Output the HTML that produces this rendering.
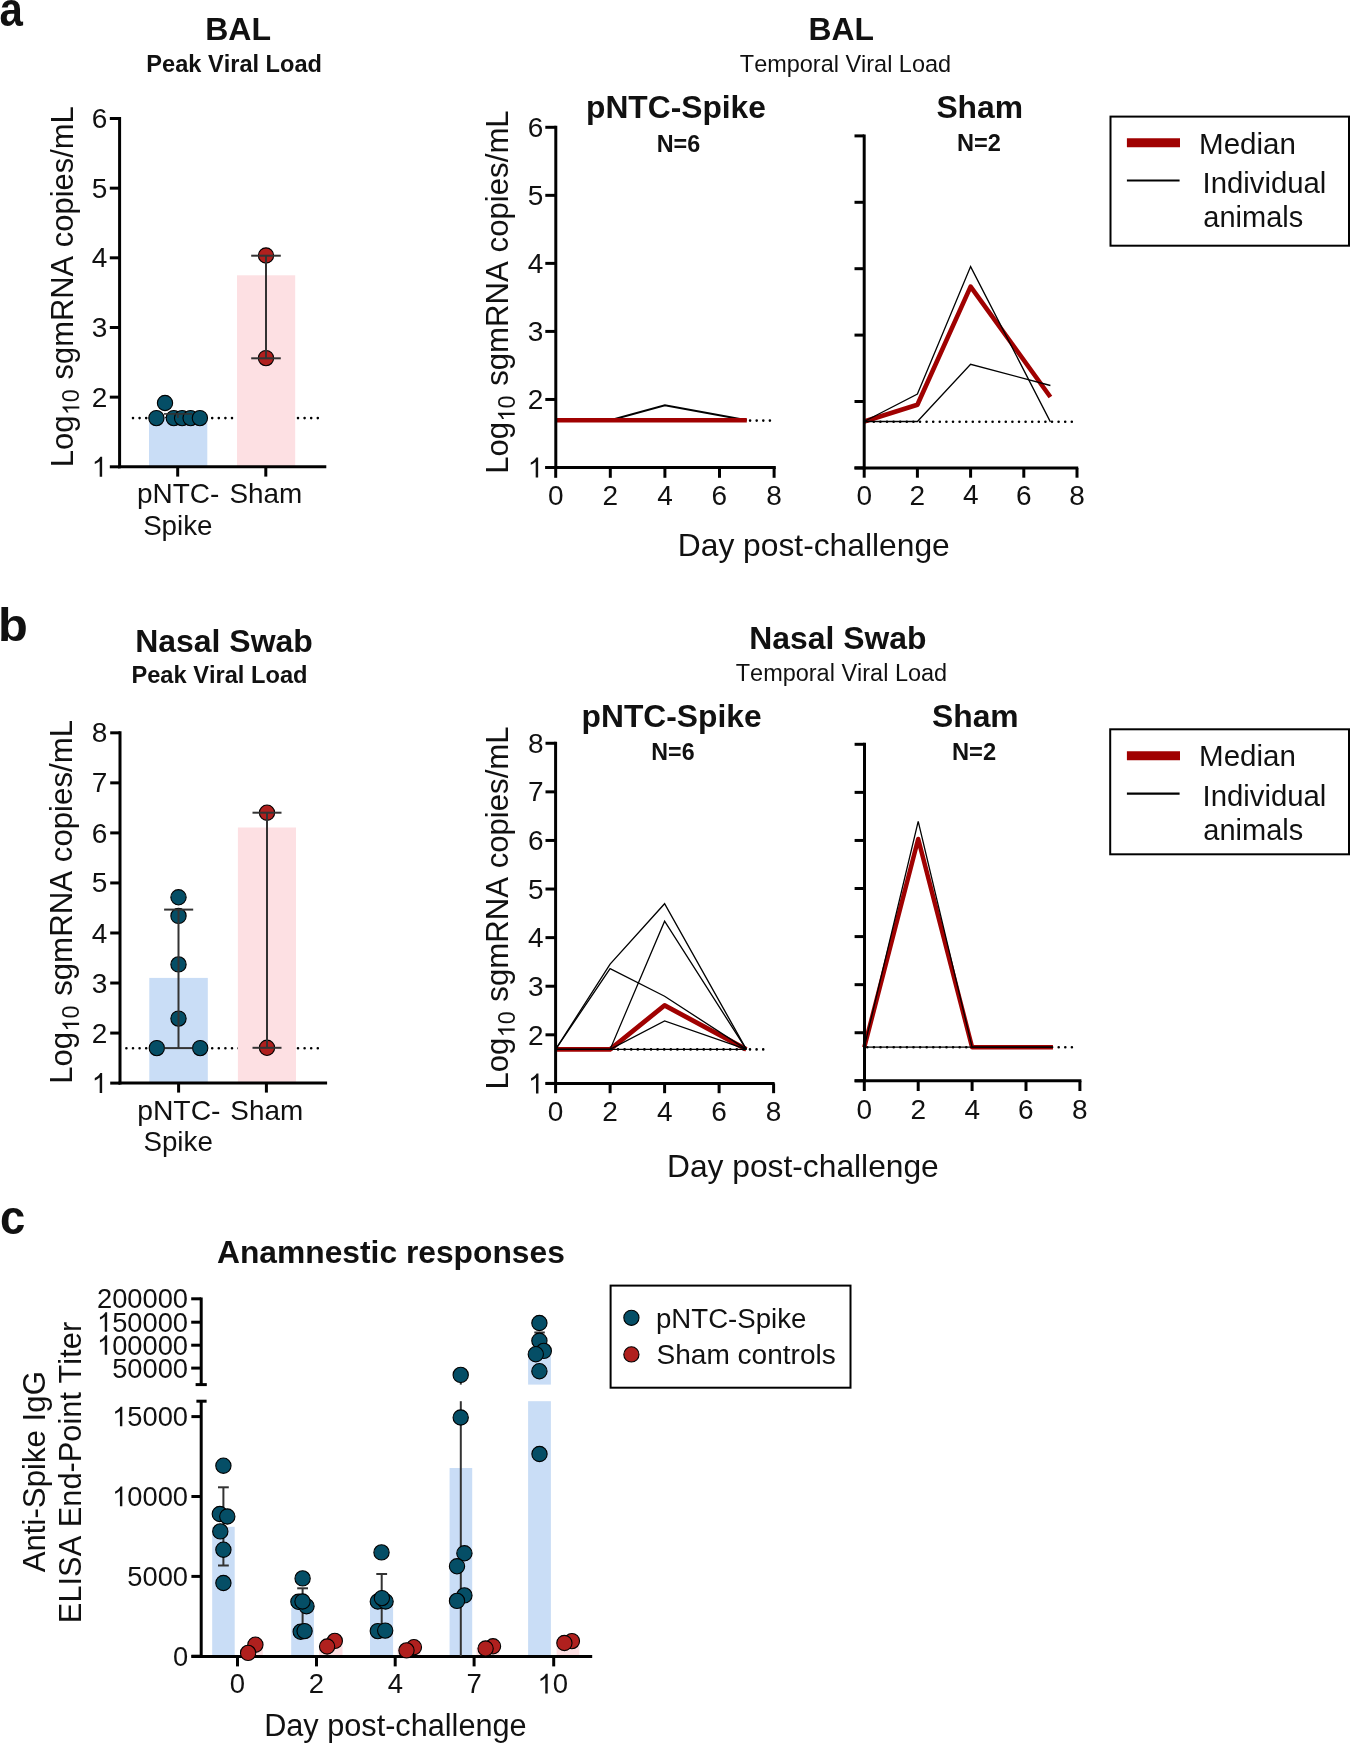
<!DOCTYPE html>
<html><head><meta charset="utf-8"><style>
html,body{margin:0;padding:0;background:#fff;}
svg{display:block;}
text{font-kerning:none;font-feature-settings:"kern" 0;}
text{font-family:"Liberation Sans", sans-serif;}
</style></head><body>
<svg width="1350" height="1743" viewBox="0 0 1350 1743">
<rect width="1350" height="1743" fill="#fff"/>
<g opacity="0.999">
<text x="-0.53" y="25.8" font-size="48.69" font-weight="bold" fill="#111" textLength="23.36" lengthAdjust="spacingAndGlyphs">a</text>
<text x="205.16" y="40.2" font-size="32.03" font-weight="bold" fill="#111">BAL</text>
<text x="146.32" y="71.8" font-size="23.58" font-weight="bold" fill="#111">Peak Viral Load</text>
<line x1="133" y1="418.1" x2="318.21" y2="418.1" stroke="#000" stroke-width="2.6" stroke-linecap="round" stroke-dasharray="0 6.6"/>
<rect x="149" y="417.8" width="58.3" height="49" fill="#c9ddf6"/>
<rect x="237" y="275.3" width="58.2" height="191.5" fill="#fde0e3"/>
<circle cx="165" cy="403" r="7.65" fill="#054e66" stroke="#000" stroke-width="1.1"/>
<circle cx="156.4" cy="418.1" r="7.65" fill="#054e66" stroke="#000" stroke-width="1.1"/>
<circle cx="173.8" cy="418.1" r="7.65" fill="#054e66" stroke="#000" stroke-width="1.1"/>
<circle cx="182.1" cy="418.1" r="7.65" fill="#054e66" stroke="#000" stroke-width="1.1"/>
<circle cx="190.6" cy="418.1" r="7.65" fill="#054e66" stroke="#000" stroke-width="1.1"/>
<circle cx="199.9" cy="418.1" r="7.65" fill="#054e66" stroke="#000" stroke-width="1.1"/>
<line x1="164" y1="413.9" x2="192" y2="413.9" stroke="#333" stroke-width="1.6" stroke-linecap="butt"/>
<line x1="177.9" y1="413.9" x2="177.9" y2="418" stroke="#333" stroke-width="1.6" stroke-linecap="butt"/>
<circle cx="266" cy="255.5" r="7.65" fill="#b0201e" stroke="#000" stroke-width="1.1"/>
<circle cx="266" cy="358.1" r="7.65" fill="#b0201e" stroke="#000" stroke-width="1.1"/>
<line x1="266" y1="255.7" x2="266" y2="358.3" stroke="#333" stroke-width="2" stroke-linecap="butt"/>
<line x1="251.2" y1="255.7" x2="280.8" y2="255.7" stroke="#333" stroke-width="2" stroke-linecap="butt"/>
<line x1="251.2" y1="358.3" x2="280.8" y2="358.3" stroke="#333" stroke-width="2" stroke-linecap="butt"/>
<line x1="119.6" y1="117" x2="119.6" y2="468.3" stroke="#000" stroke-width="3" stroke-linecap="butt"/>
<line x1="109.8" y1="118.5" x2="119.6" y2="118.5" stroke="#000" stroke-width="3" stroke-linecap="butt"/>
<text x="91.72" y="128.14" font-size="28" font-weight="normal" fill="#111">6</text>
<line x1="109.8" y1="188.16" x2="119.6" y2="188.16" stroke="#000" stroke-width="3" stroke-linecap="butt"/>
<text x="91.72" y="197.66" font-size="28" font-weight="normal" fill="#111">5</text>
<line x1="109.8" y1="257.82" x2="119.6" y2="257.82" stroke="#000" stroke-width="3" stroke-linecap="butt"/>
<text x="91.72" y="267.45" font-size="28" font-weight="normal" fill="#111">4</text>
<line x1="109.8" y1="327.48" x2="119.6" y2="327.48" stroke="#000" stroke-width="3" stroke-linecap="butt"/>
<text x="91.72" y="337.12" font-size="28" font-weight="normal" fill="#111">3</text>
<line x1="109.8" y1="397.14" x2="119.6" y2="397.14" stroke="#000" stroke-width="3" stroke-linecap="butt"/>
<text x="91.72" y="406.92" font-size="28" font-weight="normal" fill="#111">2</text>
<line x1="109.8" y1="466.8" x2="119.6" y2="466.8" stroke="#000" stroke-width="3" stroke-linecap="butt"/>
<path d="M763 0L583 0L583 1147Q518 1085 412 1023Q306 961 223 930L223 1104Q367 1172 475 1268Q583 1364 628 1466L763 1466Z" fill="#111" transform="translate(91.72,476.82) scale(0.01367,-0.01367)"/>
<line x1="118" y1="466.8" x2="326.3" y2="466.8" stroke="#000" stroke-width="3" stroke-linecap="butt"/>
<line x1="177.7" y1="466.8" x2="177.7" y2="476.6" stroke="#000" stroke-width="3" stroke-linecap="butt"/>
<line x1="265.8" y1="466.8" x2="265.8" y2="476.6" stroke="#000" stroke-width="3" stroke-linecap="butt"/>
<text x="136.9" y="503.3" font-size="27.97" font-weight="normal" fill="#111">pNTC-</text>
<text x="229.43" y="503.3" font-size="27.87" font-weight="normal" fill="#111">Sham</text>
<text x="143.14" y="534.7" font-size="27.74" font-weight="normal" fill="#111">Spike</text>
<text transform="translate(72.7,467.35) rotate(-90)" font-size="31.08" font-weight="normal" fill="#111">Log</text>
<g transform="translate(79.3,415.15) rotate(-90)"><path d="M763 0L583 0L583 1147Q518 1085 412 1023Q306 961 223 930L223 1104Q367 1172 475 1268Q583 1364 628 1466L763 1466Z" fill="#111" transform="translate(0,0) scale(0.01144,-0.01144)"/><text x="13.03" y="0" font-size="23.44" fill="#111">0</text></g>
<text transform="translate(72.7,379.46) rotate(-90)" font-size="30.93" font-weight="normal" fill="#111">sgmRNA copies/mL</text>
<text x="808.57" y="39.8" font-size="31.83" font-weight="bold" fill="#111">BAL</text>
<text x="739.87" y="72" font-size="23.46" font-weight="normal" fill="#111">Temporal Viral Load</text>
<text x="586.01" y="117.9" font-size="31.76" font-weight="bold" fill="#111">pNTC-Spike</text>
<text x="656.64" y="152" font-size="23.36" font-weight="bold" fill="#111">N=6</text>
<line x1="558.7" y1="420.6" x2="770.01" y2="420.6" stroke="#000" stroke-width="2.6" stroke-linecap="round" stroke-dasharray="0 6.6"/>
<polyline points="555.7,420.3 610.3,420.3 664.9,405.3 746.8,420.3" fill="none" stroke="#000" stroke-width="2.1" stroke-linejoin="miter" stroke-linecap="butt"/>
<polyline points="555.7,420.3 746.8,420.3" fill="none" stroke="#a00000" stroke-width="4.6" stroke-linejoin="miter" stroke-linecap="butt"/>
<line x1="555.8" y1="125.8" x2="555.8" y2="469" stroke="#000" stroke-width="3" stroke-linecap="butt"/>
<line x1="545.3" y1="127.3" x2="555.8" y2="127.3" stroke="#000" stroke-width="3" stroke-linecap="butt"/>
<text x="527.72" y="136.94" font-size="28" font-weight="normal" fill="#111">6</text>
<line x1="545.3" y1="195.34" x2="555.8" y2="195.34" stroke="#000" stroke-width="3" stroke-linecap="butt"/>
<text x="527.72" y="204.84" font-size="28" font-weight="normal" fill="#111">5</text>
<line x1="545.3" y1="263.38" x2="555.8" y2="263.38" stroke="#000" stroke-width="3" stroke-linecap="butt"/>
<text x="527.72" y="273.01" font-size="28" font-weight="normal" fill="#111">4</text>
<line x1="545.3" y1="331.42" x2="555.8" y2="331.42" stroke="#000" stroke-width="3" stroke-linecap="butt"/>
<text x="527.72" y="341.06" font-size="28" font-weight="normal" fill="#111">3</text>
<line x1="545.3" y1="399.46" x2="555.8" y2="399.46" stroke="#000" stroke-width="3" stroke-linecap="butt"/>
<text x="527.72" y="409.24" font-size="28" font-weight="normal" fill="#111">2</text>
<line x1="545.3" y1="467.5" x2="555.8" y2="467.5" stroke="#000" stroke-width="3" stroke-linecap="butt"/>
<path d="M763 0L583 0L583 1147Q518 1085 412 1023Q306 961 223 930L223 1104Q367 1172 475 1268Q583 1364 628 1466L763 1466Z" fill="#111" transform="translate(527.72,477.52) scale(0.01367,-0.01367)"/>
<line x1="545.3" y1="467.5" x2="775.8" y2="467.5" stroke="#000" stroke-width="3" stroke-linecap="butt"/>
<line x1="555.7" y1="467.5" x2="555.7" y2="477.8" stroke="#000" stroke-width="3" stroke-linecap="butt"/>
<text x="547.91" y="504.95" font-size="28" font-weight="normal" fill="#111">0</text>
<line x1="610.3" y1="467.5" x2="610.3" y2="477.8" stroke="#000" stroke-width="3" stroke-linecap="butt"/>
<text x="602.51" y="504.95" font-size="28" font-weight="normal" fill="#111">2</text>
<line x1="664.9" y1="467.5" x2="664.9" y2="477.8" stroke="#000" stroke-width="3" stroke-linecap="butt"/>
<text x="657.2" y="504.66" font-size="28" font-weight="normal" fill="#111">4</text>
<line x1="719.5" y1="467.5" x2="719.5" y2="477.8" stroke="#000" stroke-width="3" stroke-linecap="butt"/>
<text x="711.62" y="504.95" font-size="28" font-weight="normal" fill="#111">6</text>
<line x1="774.1" y1="467.5" x2="774.1" y2="477.8" stroke="#000" stroke-width="3" stroke-linecap="butt"/>
<text x="766.31" y="504.95" font-size="28" font-weight="normal" fill="#111">8</text>
<text transform="translate(508.1,473.75) rotate(-90)" font-size="31.08" font-weight="normal" fill="#111">Log</text>
<g transform="translate(514.7,421.55) rotate(-90)"><path d="M763 0L583 0L583 1147Q518 1085 412 1023Q306 961 223 930L223 1104Q367 1172 475 1268Q583 1364 628 1466L763 1466Z" fill="#111" transform="translate(0,0) scale(0.01144,-0.01144)"/><text x="13.03" y="0" font-size="23.44" fill="#111">0</text></g>
<text transform="translate(508.1,385.87) rotate(-90)" font-size="31.2" font-weight="normal" fill="#111">sgmRNA copies/mL</text>
<text x="936.38" y="117.6" font-size="31.83" font-weight="bold" fill="#111">Sham</text>
<text x="956.92" y="151.3" font-size="23.58" font-weight="bold" fill="#111">N=2</text>
<line x1="867.2" y1="421.7" x2="1073.51" y2="421.7" stroke="#000" stroke-width="2.6" stroke-linecap="round" stroke-dasharray="0 6.6"/>
<polyline points="864.2,421.5 917.4,404.7 970.6,286.6 1050.4,397" fill="none" stroke="#a00000" stroke-width="4.6" stroke-linejoin="round" stroke-linecap="butt"/>
<polyline points="864.2,421.5 917.4,394.1 970.6,266.6 1050.4,421.9" fill="none" stroke="#000" stroke-width="1.3" stroke-linejoin="miter" stroke-linecap="butt"/>
<polyline points="864.2,421.5 917.4,421.5 970.6,364.3 1050.4,385.5" fill="none" stroke="#000" stroke-width="1.3" stroke-linejoin="miter" stroke-linecap="butt"/>
<line x1="864.2" y1="134.4" x2="864.2" y2="469.4" stroke="#000" stroke-width="3" stroke-linecap="butt"/>
<line x1="854.5" y1="135.9" x2="864.2" y2="135.9" stroke="#000" stroke-width="3" stroke-linecap="butt"/>
<line x1="854.5" y1="202.3" x2="864.2" y2="202.3" stroke="#000" stroke-width="3" stroke-linecap="butt"/>
<line x1="854.5" y1="268.7" x2="864.2" y2="268.7" stroke="#000" stroke-width="3" stroke-linecap="butt"/>
<line x1="854.5" y1="335.1" x2="864.2" y2="335.1" stroke="#000" stroke-width="3" stroke-linecap="butt"/>
<line x1="854.5" y1="401.5" x2="864.2" y2="401.5" stroke="#000" stroke-width="3" stroke-linecap="butt"/>
<line x1="854.5" y1="467.9" x2="864.2" y2="467.9" stroke="#000" stroke-width="3" stroke-linecap="butt"/>
<line x1="854.5" y1="467.9" x2="1078.2" y2="467.9" stroke="#000" stroke-width="3" stroke-linecap="butt"/>
<line x1="864.2" y1="467.9" x2="864.2" y2="477.7" stroke="#000" stroke-width="3" stroke-linecap="butt"/>
<text x="856.41" y="504.75" font-size="28" font-weight="normal" fill="#111">0</text>
<line x1="917.4" y1="467.9" x2="917.4" y2="477.7" stroke="#000" stroke-width="3" stroke-linecap="butt"/>
<text x="909.61" y="504.75" font-size="28" font-weight="normal" fill="#111">2</text>
<line x1="970.6" y1="467.9" x2="970.6" y2="477.7" stroke="#000" stroke-width="3" stroke-linecap="butt"/>
<text x="962.9" y="504.46" font-size="28" font-weight="normal" fill="#111">4</text>
<line x1="1023.8" y1="467.9" x2="1023.8" y2="477.7" stroke="#000" stroke-width="3" stroke-linecap="butt"/>
<text x="1015.92" y="504.75" font-size="28" font-weight="normal" fill="#111">6</text>
<line x1="1077" y1="467.9" x2="1077" y2="477.7" stroke="#000" stroke-width="3" stroke-linecap="butt"/>
<text x="1069.21" y="504.75" font-size="28" font-weight="normal" fill="#111">8</text>
<text x="677.79" y="555.6" font-size="31.78" font-weight="normal" fill="#111">Day post-challenge</text>
<rect x="1110.5" y="116.6" width="238.5" height="129.1" fill="none" stroke="#000" stroke-width="2"/>
<line x1="1126.9" y1="142.8" x2="1180" y2="142.8" stroke="#a00000" stroke-width="8.9" stroke-linecap="butt"/>
<line x1="1126.9" y1="180.5" x2="1179.6" y2="180.5" stroke="#000" stroke-width="2.2" stroke-linecap="butt"/>
<text x="1199.08" y="153.5" font-size="29.56" font-weight="normal" fill="#111">Median</text>
<text x="1202.49" y="193" font-size="29.32" font-weight="normal" fill="#111">Individual</text>
<text x="1203.37" y="227.2" font-size="28.99" font-weight="normal" fill="#111">animals</text>
<text x="-1.92" y="641" font-size="46.78" font-weight="bold" fill="#111" textLength="29.82" lengthAdjust="spacingAndGlyphs">b</text>
<text x="135.16" y="652.1" font-size="31.98" font-weight="bold" fill="#111">Nasal Swab</text>
<text x="131.42" y="683.1" font-size="23.65" font-weight="bold" fill="#111">Peak Viral Load</text>
<line x1="126.4" y1="1048.3" x2="321.21" y2="1048.3" stroke="#000" stroke-width="2.6" stroke-linecap="round" stroke-dasharray="0 6.6"/>
<rect x="149.3" y="977.9" width="58.5" height="105.2" fill="#c9ddf6"/>
<rect x="237.9" y="827.5" width="58.1" height="255.6" fill="#fde0e3"/>
<circle cx="178.5" cy="897.3" r="7.65" fill="#054e66" stroke="#000" stroke-width="1.1"/>
<circle cx="178.5" cy="915.9" r="7.65" fill="#054e66" stroke="#000" stroke-width="1.1"/>
<circle cx="178.5" cy="964.4" r="7.65" fill="#054e66" stroke="#000" stroke-width="1.1"/>
<circle cx="178.5" cy="1018.6" r="7.65" fill="#054e66" stroke="#000" stroke-width="1.1"/>
<circle cx="156.8" cy="1048.1" r="7.65" fill="#054e66" stroke="#000" stroke-width="1.1"/>
<circle cx="200.2" cy="1048.1" r="7.65" fill="#054e66" stroke="#000" stroke-width="1.1"/>
<line x1="178.5" y1="909.6" x2="178.5" y2="1048.1" stroke="#333" stroke-width="2" stroke-linecap="butt"/>
<line x1="164.1" y1="909.6" x2="193.2" y2="909.6" stroke="#333" stroke-width="2" stroke-linecap="butt"/>
<line x1="164.6" y1="1048.1" x2="192.2" y2="1048.1" stroke="#333" stroke-width="2" stroke-linecap="butt"/>
<circle cx="267" cy="812.7" r="7.65" fill="#b0201e" stroke="#000" stroke-width="1.1"/>
<circle cx="267" cy="1047.8" r="7.65" fill="#b0201e" stroke="#000" stroke-width="1.1"/>
<line x1="267" y1="812.7" x2="267" y2="1047.8" stroke="#333" stroke-width="2" stroke-linecap="butt"/>
<line x1="252.5" y1="812.7" x2="281.5" y2="812.7" stroke="#333" stroke-width="2" stroke-linecap="butt"/>
<line x1="252.5" y1="1047.8" x2="281.5" y2="1047.8" stroke="#333" stroke-width="2" stroke-linecap="butt"/>
<line x1="120" y1="731.3" x2="120" y2="1084.6" stroke="#000" stroke-width="3" stroke-linecap="butt"/>
<line x1="110.2" y1="732.82" x2="120" y2="732.82" stroke="#000" stroke-width="3" stroke-linecap="butt"/>
<text x="91.72" y="742.46" font-size="28" font-weight="normal" fill="#111">8</text>
<line x1="110.2" y1="782.86" x2="120" y2="782.86" stroke="#000" stroke-width="3" stroke-linecap="butt"/>
<text x="91.72" y="792.49" font-size="28" font-weight="normal" fill="#111">7</text>
<line x1="110.2" y1="832.9" x2="120" y2="832.9" stroke="#000" stroke-width="3" stroke-linecap="butt"/>
<text x="91.72" y="842.54" font-size="28" font-weight="normal" fill="#111">6</text>
<line x1="110.2" y1="882.94" x2="120" y2="882.94" stroke="#000" stroke-width="3" stroke-linecap="butt"/>
<text x="91.72" y="892.44" font-size="28" font-weight="normal" fill="#111">5</text>
<line x1="110.2" y1="932.98" x2="120" y2="932.98" stroke="#000" stroke-width="3" stroke-linecap="butt"/>
<text x="91.72" y="942.61" font-size="28" font-weight="normal" fill="#111">4</text>
<line x1="110.2" y1="983.02" x2="120" y2="983.02" stroke="#000" stroke-width="3" stroke-linecap="butt"/>
<text x="91.72" y="992.66" font-size="28" font-weight="normal" fill="#111">3</text>
<line x1="110.2" y1="1033.06" x2="120" y2="1033.06" stroke="#000" stroke-width="3" stroke-linecap="butt"/>
<text x="91.72" y="1042.84" font-size="28" font-weight="normal" fill="#111">2</text>
<line x1="110.2" y1="1083.1" x2="120" y2="1083.1" stroke="#000" stroke-width="3" stroke-linecap="butt"/>
<path d="M763 0L583 0L583 1147Q518 1085 412 1023Q306 961 223 930L223 1104Q367 1172 475 1268Q583 1364 628 1466L763 1466Z" fill="#111" transform="translate(91.72,1093.12) scale(0.01367,-0.01367)"/>
<line x1="118.5" y1="1083.1" x2="327.1" y2="1083.1" stroke="#000" stroke-width="3" stroke-linecap="butt"/>
<line x1="178.6" y1="1083.1" x2="178.6" y2="1092.6" stroke="#000" stroke-width="3" stroke-linecap="butt"/>
<line x1="266.4" y1="1083.1" x2="266.4" y2="1092.6" stroke="#000" stroke-width="3" stroke-linecap="butt"/>
<text x="137.17" y="1120" font-size="28.32" font-weight="normal" fill="#111">pNTC-</text>
<text x="230.33" y="1120" font-size="27.87" font-weight="normal" fill="#111">Sham</text>
<text x="143.44" y="1150.7" font-size="27.74" font-weight="normal" fill="#111">Spike</text>
<text transform="translate(72.3,1083.75) rotate(-90)" font-size="31.08" font-weight="normal" fill="#111">Log</text>
<g transform="translate(79.1,1031.55) rotate(-90)"><path d="M763 0L583 0L583 1147Q518 1085 412 1023Q306 961 223 930L223 1104Q367 1172 475 1268Q583 1364 628 1466L763 1466Z" fill="#111" transform="translate(0,0) scale(0.01144,-0.01144)"/><text x="13.03" y="0" font-size="23.44" fill="#111">0</text></g>
<text transform="translate(72.3,995.87) rotate(-90)" font-size="31.24" font-weight="normal" fill="#111">sgmRNA copies/mL</text>
<text x="749.37" y="649.4" font-size="31.87" font-weight="bold" fill="#111">Nasal Swab</text>
<text x="735.77" y="680.9" font-size="23.47" font-weight="normal" fill="#111">Temporal Viral Load</text>
<text x="581.61" y="726.9" font-size="31.76" font-weight="bold" fill="#111">pNTC-Spike</text>
<text x="651.35" y="760.4" font-size="23.19" font-weight="bold" fill="#111">N=6</text>
<line x1="558.6" y1="1049.4" x2="769.51" y2="1049.4" stroke="#000" stroke-width="2.6" stroke-linecap="round" stroke-dasharray="0 6.6"/>
<polyline points="555.6,1049.4 610.1,1049.4 664.6,1005.4 746.35,1049.4" fill="none" stroke="#a00000" stroke-width="4.6" stroke-linejoin="round" stroke-linecap="butt"/>
<polyline points="555.6,1049.4 610.1,964.1 664.6,903.7 746.35,1049.4" fill="none" stroke="#000" stroke-width="1.3" stroke-linejoin="miter" stroke-linecap="butt"/>
<polyline points="555.6,1049.4 610.1,968.7 664.6,996.2 746.35,1049.4" fill="none" stroke="#000" stroke-width="1.3" stroke-linejoin="miter" stroke-linecap="butt"/>
<polyline points="555.6,1049.4 610.1,1049.4 664.6,921.2 746.35,1049.4" fill="none" stroke="#000" stroke-width="1.3" stroke-linejoin="miter" stroke-linecap="butt"/>
<polyline points="555.6,1049.4 610.1,1049.4 664.6,1021 746.35,1049.4" fill="none" stroke="#000" stroke-width="1.3" stroke-linejoin="miter" stroke-linecap="butt"/>
<polyline points="555.6,1049.4 746.35,1049.4" fill="none" stroke="#000" stroke-width="1.3" stroke-linejoin="miter" stroke-linecap="butt"/>
<line x1="555.6" y1="741.8" x2="555.6" y2="1084.9" stroke="#000" stroke-width="3" stroke-linecap="butt"/>
<line x1="545.5" y1="743.27" x2="555.6" y2="743.27" stroke="#000" stroke-width="3" stroke-linecap="butt"/>
<text x="528.02" y="752.91" font-size="28" font-weight="normal" fill="#111">8</text>
<line x1="545.5" y1="791.86" x2="555.6" y2="791.86" stroke="#000" stroke-width="3" stroke-linecap="butt"/>
<text x="528.02" y="801.49" font-size="28" font-weight="normal" fill="#111">7</text>
<line x1="545.5" y1="840.45" x2="555.6" y2="840.45" stroke="#000" stroke-width="3" stroke-linecap="butt"/>
<text x="528.02" y="850.09" font-size="28" font-weight="normal" fill="#111">6</text>
<line x1="545.5" y1="889.04" x2="555.6" y2="889.04" stroke="#000" stroke-width="3" stroke-linecap="butt"/>
<text x="528.02" y="898.54" font-size="28" font-weight="normal" fill="#111">5</text>
<line x1="545.5" y1="937.63" x2="555.6" y2="937.63" stroke="#000" stroke-width="3" stroke-linecap="butt"/>
<text x="528.02" y="947.26" font-size="28" font-weight="normal" fill="#111">4</text>
<line x1="545.5" y1="986.22" x2="555.6" y2="986.22" stroke="#000" stroke-width="3" stroke-linecap="butt"/>
<text x="528.02" y="995.86" font-size="28" font-weight="normal" fill="#111">3</text>
<line x1="545.5" y1="1034.81" x2="555.6" y2="1034.81" stroke="#000" stroke-width="3" stroke-linecap="butt"/>
<text x="528.02" y="1044.59" font-size="28" font-weight="normal" fill="#111">2</text>
<line x1="545.5" y1="1083.4" x2="555.6" y2="1083.4" stroke="#000" stroke-width="3" stroke-linecap="butt"/>
<path d="M763 0L583 0L583 1147Q518 1085 412 1023Q306 961 223 930L223 1104Q367 1172 475 1268Q583 1364 628 1466L763 1466Z" fill="#111" transform="translate(528.02,1093.42) scale(0.01367,-0.01367)"/>
<line x1="545.5" y1="1083.4" x2="774.6" y2="1083.4" stroke="#000" stroke-width="3" stroke-linecap="butt"/>
<line x1="555.6" y1="1083.4" x2="555.6" y2="1093.2" stroke="#000" stroke-width="3" stroke-linecap="butt"/>
<text x="547.81" y="1120.95" font-size="28" font-weight="normal" fill="#111">0</text>
<line x1="610.1" y1="1083.4" x2="610.1" y2="1093.2" stroke="#000" stroke-width="3" stroke-linecap="butt"/>
<text x="602.31" y="1120.95" font-size="28" font-weight="normal" fill="#111">2</text>
<line x1="664.6" y1="1083.4" x2="664.6" y2="1093.2" stroke="#000" stroke-width="3" stroke-linecap="butt"/>
<text x="656.9" y="1120.66" font-size="28" font-weight="normal" fill="#111">4</text>
<line x1="719.1" y1="1083.4" x2="719.1" y2="1093.2" stroke="#000" stroke-width="3" stroke-linecap="butt"/>
<text x="711.22" y="1120.95" font-size="28" font-weight="normal" fill="#111">6</text>
<line x1="773.6" y1="1083.4" x2="773.6" y2="1093.2" stroke="#000" stroke-width="3" stroke-linecap="butt"/>
<text x="765.81" y="1120.95" font-size="28" font-weight="normal" fill="#111">8</text>
<text transform="translate(508.1,1089.55) rotate(-90)" font-size="31.08" font-weight="normal" fill="#111">Log</text>
<g transform="translate(514.7,1037.35) rotate(-90)"><path d="M763 0L583 0L583 1147Q518 1085 412 1023Q306 961 223 930L223 1104Q367 1172 475 1268Q583 1364 628 1466L763 1466Z" fill="#111" transform="translate(0,0) scale(0.01144,-0.01144)"/><text x="13.03" y="0" font-size="23.44" fill="#111">0</text></g>
<text transform="translate(508.1,1001.67) rotate(-90)" font-size="31.17" font-weight="normal" fill="#111">sgmRNA copies/mL</text>
<text x="931.98" y="726.6" font-size="31.83" font-weight="bold" fill="#111">Sham</text>
<text x="952.01" y="760.2" font-size="23.7" font-weight="bold" fill="#111">N=2</text>
<line x1="867.3" y1="1047.2" x2="1076.01" y2="1047.2" stroke="#000" stroke-width="2.6" stroke-linecap="round" stroke-dasharray="0 6.6"/>
<polyline points="864.3,1047.2 918.2,839 972.1,1047.2 1052.95,1047.2" fill="none" stroke="#a00000" stroke-width="4.5" stroke-linejoin="round" stroke-linecap="butt"/>
<polyline points="864.3,1047.2 918.2,821.3 972.1,1047.2 1052.95,1047.2" fill="none" stroke="#000" stroke-width="1.3" stroke-linejoin="miter" stroke-linecap="butt"/>
<polyline points="864.3,1047.2 1052.95,1047.2" fill="none" stroke="#000" stroke-width="1.3" stroke-linejoin="miter" stroke-linecap="butt"/>
<line x1="864.5" y1="742.8" x2="864.5" y2="1082.3" stroke="#000" stroke-width="3" stroke-linecap="butt"/>
<line x1="854.6" y1="744.31" x2="864.5" y2="744.31" stroke="#000" stroke-width="3" stroke-linecap="butt"/>
<line x1="854.6" y1="792.38" x2="864.5" y2="792.38" stroke="#000" stroke-width="3" stroke-linecap="butt"/>
<line x1="854.6" y1="840.45" x2="864.5" y2="840.45" stroke="#000" stroke-width="3" stroke-linecap="butt"/>
<line x1="854.6" y1="888.52" x2="864.5" y2="888.52" stroke="#000" stroke-width="3" stroke-linecap="butt"/>
<line x1="854.6" y1="936.59" x2="864.5" y2="936.59" stroke="#000" stroke-width="3" stroke-linecap="butt"/>
<line x1="854.6" y1="984.66" x2="864.5" y2="984.66" stroke="#000" stroke-width="3" stroke-linecap="butt"/>
<line x1="854.6" y1="1032.73" x2="864.5" y2="1032.73" stroke="#000" stroke-width="3" stroke-linecap="butt"/>
<line x1="854.6" y1="1080.8" x2="864.5" y2="1080.8" stroke="#000" stroke-width="3" stroke-linecap="butt"/>
<line x1="854.6" y1="1080.8" x2="1081.4" y2="1080.8" stroke="#000" stroke-width="3" stroke-linecap="butt"/>
<line x1="864.3" y1="1080.8" x2="864.3" y2="1091" stroke="#000" stroke-width="3" stroke-linecap="butt"/>
<text x="856.51" y="1118.95" font-size="28" font-weight="normal" fill="#111">0</text>
<line x1="918.2" y1="1080.8" x2="918.2" y2="1091" stroke="#000" stroke-width="3" stroke-linecap="butt"/>
<text x="910.41" y="1118.95" font-size="28" font-weight="normal" fill="#111">2</text>
<line x1="972.1" y1="1080.8" x2="972.1" y2="1091" stroke="#000" stroke-width="3" stroke-linecap="butt"/>
<text x="964.4" y="1118.66" font-size="28" font-weight="normal" fill="#111">4</text>
<line x1="1026" y1="1080.8" x2="1026" y2="1091" stroke="#000" stroke-width="3" stroke-linecap="butt"/>
<text x="1018.12" y="1118.95" font-size="28" font-weight="normal" fill="#111">6</text>
<line x1="1079.9" y1="1080.8" x2="1079.9" y2="1091" stroke="#000" stroke-width="3" stroke-linecap="butt"/>
<text x="1072.11" y="1118.95" font-size="28" font-weight="normal" fill="#111">8</text>
<text x="666.99" y="1177.2" font-size="31.76" font-weight="normal" fill="#111">Day post-challenge</text>
<rect x="1110.2" y="729.3" width="238.8" height="125" fill="none" stroke="#000" stroke-width="2"/>
<line x1="1126.9" y1="755.7" x2="1180" y2="755.7" stroke="#a00000" stroke-width="8.9" stroke-linecap="butt"/>
<line x1="1126.9" y1="793.7" x2="1179.6" y2="793.7" stroke="#000" stroke-width="2.2" stroke-linecap="butt"/>
<text x="1199.08" y="766.3" font-size="29.56" font-weight="normal" fill="#111">Median</text>
<text x="1202.49" y="806.1" font-size="29.32" font-weight="normal" fill="#111">Individual</text>
<text x="1203.37" y="840" font-size="28.99" font-weight="normal" fill="#111">animals</text>
<text x="0.02" y="1233.8" font-size="47.2" font-weight="bold" fill="#111" textLength="25.31" lengthAdjust="spacingAndGlyphs">c</text>
<text x="217.01" y="1263.3" font-size="31.77" font-weight="bold" fill="#111">Anamnestic responses</text>
<rect x="212.2" y="1526.8" width="22.5" height="129.4" fill="#c9ddf6"/>
<rect x="291.2" y="1608" width="22.7" height="48.2" fill="#c9ddf6"/>
<rect x="370" y="1606.4" width="23.1" height="49.8" fill="#c9ddf6"/>
<rect x="449.6" y="1468" width="22.6" height="188.2" fill="#c9ddf6"/>
<rect x="528.1" y="1401.2" width="22.8" height="255" fill="#c9ddf6"/>
<rect x="528.1" y="1355" width="22.8" height="29.6" fill="#c9ddf6"/>
<rect x="240.2" y="1649" width="22.6" height="7.2" fill="#fde0e3"/>
<rect x="319.1" y="1645.3" width="23.4" height="10.9" fill="#fde0e3"/>
<rect x="397.5" y="1648" width="23" height="8.2" fill="#fde0e3"/>
<rect x="476.5" y="1647.5" width="23" height="8.7" fill="#fde0e3"/>
<rect x="556.6" y="1641" width="22.8" height="15.2" fill="#fde0e3"/>
<line x1="201.2" y1="1297.5" x2="201.2" y2="1384.6" stroke="#000" stroke-width="3" stroke-linecap="butt"/>
<line x1="191.2" y1="1298.8" x2="201.2" y2="1298.8" stroke="#000" stroke-width="3" stroke-linecap="butt"/>
<text x="96.97" y="1308.2" font-size="27.3" font-weight="normal" fill="#111">200000</text>
<line x1="191.2" y1="1322.2" x2="201.2" y2="1322.2" stroke="#000" stroke-width="3" stroke-linecap="butt"/>
<path d="M763 0L583 0L583 1147Q518 1085 412 1023Q306 961 223 930L223 1104Q367 1172 475 1268Q583 1364 628 1466L763 1466Z" fill="#111" transform="translate(96.97,1331.84) scale(0.01333,-0.01333)"/>
<text x="112.15" y="1331.84" font-size="27.3" fill="#111">50000</text>
<line x1="191.2" y1="1345.2" x2="201.2" y2="1345.2" stroke="#000" stroke-width="3" stroke-linecap="butt"/>
<path d="M763 0L583 0L583 1147Q518 1085 412 1023Q306 961 223 930L223 1104Q367 1172 475 1268Q583 1364 628 1466L763 1466Z" fill="#111" transform="translate(96.97,1354.84) scale(0.01333,-0.01333)"/>
<text x="112.15" y="1354.84" font-size="27.3" fill="#111">00000</text>
<line x1="191.2" y1="1368.1" x2="201.2" y2="1368.1" stroke="#000" stroke-width="3" stroke-linecap="butt"/>
<text x="112.15" y="1377.5" font-size="27.3" font-weight="normal" fill="#111">50000</text>
<line x1="195.6" y1="1384.6" x2="206.8" y2="1384.6" stroke="#000" stroke-width="3" stroke-linecap="butt"/>
<line x1="196.4" y1="1401.2" x2="206.6" y2="1401.2" stroke="#000" stroke-width="3" stroke-linecap="butt"/>
<line x1="201.2" y1="1401.2" x2="201.2" y2="1657.7" stroke="#000" stroke-width="3" stroke-linecap="butt"/>
<line x1="191.4" y1="1416.6" x2="201.2" y2="1416.6" stroke="#000" stroke-width="3" stroke-linecap="butt"/>
<path d="M763 0L583 0L583 1147Q518 1085 412 1023Q306 961 223 930L223 1104Q367 1172 475 1268Q583 1364 628 1466L763 1466Z" fill="#111" transform="translate(112.15,1426.24) scale(0.01333,-0.01333)"/>
<text x="127.33" y="1426.24" font-size="27.3" fill="#111">5000</text>
<line x1="191.4" y1="1496.5" x2="201.2" y2="1496.5" stroke="#000" stroke-width="3" stroke-linecap="butt"/>
<path d="M763 0L583 0L583 1147Q518 1085 412 1023Q306 961 223 930L223 1104Q367 1172 475 1268Q583 1364 628 1466L763 1466Z" fill="#111" transform="translate(112.15,1506.14) scale(0.01333,-0.01333)"/>
<text x="127.33" y="1506.14" font-size="27.3" fill="#111">0000</text>
<line x1="191.4" y1="1576.4" x2="201.2" y2="1576.4" stroke="#000" stroke-width="3" stroke-linecap="butt"/>
<text x="127.33" y="1585.8" font-size="27.3" font-weight="normal" fill="#111">5000</text>
<line x1="191.4" y1="1656.2" x2="201.2" y2="1656.2" stroke="#000" stroke-width="3" stroke-linecap="butt"/>
<text x="172.88" y="1665.6" font-size="27.3" font-weight="normal" fill="#111">0</text>
<line x1="191.4" y1="1656.4" x2="592.2" y2="1656.4" stroke="#000" stroke-width="3" stroke-linecap="butt"/>
<line x1="237.5" y1="1656.4" x2="237.5" y2="1666.4" stroke="#000" stroke-width="3" stroke-linecap="butt"/>
<text x="229.85" y="1693" font-size="27.5" font-weight="normal" fill="#111">0</text>
<line x1="316.5" y1="1656.4" x2="316.5" y2="1666.4" stroke="#000" stroke-width="3" stroke-linecap="butt"/>
<text x="308.85" y="1693" font-size="27.5" font-weight="normal" fill="#111">2</text>
<line x1="395.2" y1="1656.4" x2="395.2" y2="1666.4" stroke="#000" stroke-width="3" stroke-linecap="butt"/>
<text x="387.64" y="1692.72" font-size="27.5" font-weight="normal" fill="#111">4</text>
<line x1="474.1" y1="1656.4" x2="474.1" y2="1666.4" stroke="#000" stroke-width="3" stroke-linecap="butt"/>
<text x="466.44" y="1692.72" font-size="27.5" font-weight="normal" fill="#111">7</text>
<line x1="553.7" y1="1656.4" x2="553.7" y2="1666.4" stroke="#000" stroke-width="3" stroke-linecap="butt"/>
<path d="M763 0L583 0L583 1147Q518 1085 412 1023Q306 961 223 930L223 1104Q367 1172 475 1268Q583 1364 628 1466L763 1466Z" fill="#111" transform="translate(537.45,1693.49) scale(0.01343,-0.01343)"/>
<text x="552.74" y="1693.49" font-size="27.5" fill="#111">0</text>
<line x1="223.4" y1="1487.3" x2="223.4" y2="1565.5" stroke="#333" stroke-width="2" stroke-linecap="butt"/>
<line x1="218" y1="1487.3" x2="228.8" y2="1487.3" stroke="#333" stroke-width="2" stroke-linecap="butt"/>
<line x1="218" y1="1565.5" x2="228.8" y2="1565.5" stroke="#333" stroke-width="2" stroke-linecap="butt"/>
<line x1="302.6" y1="1588.3" x2="302.6" y2="1625" stroke="#333" stroke-width="2" stroke-linecap="butt"/>
<line x1="297.2" y1="1588.3" x2="308" y2="1588.3" stroke="#333" stroke-width="2" stroke-linecap="butt"/>
<line x1="297.2" y1="1625" x2="308" y2="1625" stroke="#333" stroke-width="2" stroke-linecap="butt"/>
<line x1="381.7" y1="1574" x2="381.7" y2="1628" stroke="#333" stroke-width="2" stroke-linecap="butt"/>
<line x1="376.3" y1="1574" x2="387.1" y2="1574" stroke="#333" stroke-width="2" stroke-linecap="butt"/>
<line x1="376.3" y1="1628" x2="387.1" y2="1628" stroke="#333" stroke-width="2" stroke-linecap="butt"/>
<line x1="460.8" y1="1401.2" x2="460.8" y2="1656.2" stroke="#333" stroke-width="2" stroke-linecap="butt"/>
<line x1="460.8" y1="1380" x2="460.8" y2="1384.6" stroke="#333" stroke-width="2" stroke-linecap="butt"/>
<line x1="534.3" y1="1332.5" x2="544.8" y2="1332.5" stroke="#333" stroke-width="2" stroke-linecap="butt"/>
<circle cx="223.4" cy="1465.7" r="7.65" fill="#054e66" stroke="#000" stroke-width="1.1"/>
<circle cx="219.8" cy="1514" r="7.65" fill="#054e66" stroke="#000" stroke-width="1.1"/>
<circle cx="227.3" cy="1516.5" r="7.65" fill="#054e66" stroke="#000" stroke-width="1.1"/>
<circle cx="220.3" cy="1531.4" r="7.65" fill="#054e66" stroke="#000" stroke-width="1.1"/>
<circle cx="223.4" cy="1549.7" r="7.65" fill="#054e66" stroke="#000" stroke-width="1.1"/>
<circle cx="223.4" cy="1583" r="7.65" fill="#054e66" stroke="#000" stroke-width="1.1"/>
<circle cx="302.6" cy="1578.4" r="7.65" fill="#054e66" stroke="#000" stroke-width="1.1"/>
<circle cx="298.4" cy="1601.8" r="7.65" fill="#054e66" stroke="#000" stroke-width="1.1"/>
<circle cx="306.5" cy="1606.2" r="7.65" fill="#054e66" stroke="#000" stroke-width="1.1"/>
<circle cx="302.5" cy="1601.5" r="7.65" fill="#054e66" stroke="#000" stroke-width="1.1"/>
<circle cx="300.7" cy="1631.7" r="7.65" fill="#054e66" stroke="#000" stroke-width="1.1"/>
<circle cx="304.6" cy="1631.1" r="7.65" fill="#054e66" stroke="#000" stroke-width="1.1"/>
<circle cx="381.5" cy="1552.4" r="7.65" fill="#054e66" stroke="#000" stroke-width="1.1"/>
<circle cx="377.8" cy="1601.5" r="7.65" fill="#054e66" stroke="#000" stroke-width="1.1"/>
<circle cx="385.6" cy="1601.5" r="7.65" fill="#054e66" stroke="#000" stroke-width="1.1"/>
<circle cx="381.9" cy="1598.1" r="7.65" fill="#054e66" stroke="#000" stroke-width="1.1"/>
<circle cx="377.8" cy="1631.1" r="7.65" fill="#054e66" stroke="#000" stroke-width="1.1"/>
<circle cx="385.2" cy="1630.6" r="7.65" fill="#054e66" stroke="#000" stroke-width="1.1"/>
<circle cx="460.7" cy="1374.9" r="7.65" fill="#054e66" stroke="#000" stroke-width="1.1"/>
<circle cx="460.7" cy="1417.5" r="7.65" fill="#054e66" stroke="#000" stroke-width="1.1"/>
<circle cx="464.4" cy="1553.3" r="7.65" fill="#054e66" stroke="#000" stroke-width="1.1"/>
<circle cx="457" cy="1566.3" r="7.65" fill="#054e66" stroke="#000" stroke-width="1.1"/>
<circle cx="464.4" cy="1595.4" r="7.65" fill="#054e66" stroke="#000" stroke-width="1.1"/>
<circle cx="457" cy="1600.9" r="7.65" fill="#054e66" stroke="#000" stroke-width="1.1"/>
<circle cx="539.4" cy="1323" r="7.65" fill="#054e66" stroke="#000" stroke-width="1.1"/>
<circle cx="539.4" cy="1340.8" r="7.65" fill="#054e66" stroke="#000" stroke-width="1.1"/>
<circle cx="543.8" cy="1350.9" r="7.65" fill="#054e66" stroke="#000" stroke-width="1.1"/>
<circle cx="535.8" cy="1354.2" r="7.65" fill="#054e66" stroke="#000" stroke-width="1.1"/>
<circle cx="539.4" cy="1371.2" r="7.65" fill="#054e66" stroke="#000" stroke-width="1.1"/>
<circle cx="539.5" cy="1454" r="7.65" fill="#054e66" stroke="#000" stroke-width="1.1"/>
<circle cx="255.4" cy="1644.7" r="7.65" fill="#b0201e" stroke="#000" stroke-width="1.1"/>
<circle cx="248.1" cy="1652.9" r="7.65" fill="#b0201e" stroke="#000" stroke-width="1.1"/>
<circle cx="334.8" cy="1640.9" r="7.65" fill="#b0201e" stroke="#000" stroke-width="1.1"/>
<circle cx="327.1" cy="1646.5" r="7.65" fill="#b0201e" stroke="#000" stroke-width="1.1"/>
<circle cx="413.9" cy="1647.2" r="7.65" fill="#b0201e" stroke="#000" stroke-width="1.1"/>
<circle cx="406.5" cy="1650.4" r="7.65" fill="#b0201e" stroke="#000" stroke-width="1.1"/>
<circle cx="493" cy="1646.3" r="7.65" fill="#b0201e" stroke="#000" stroke-width="1.1"/>
<circle cx="485.6" cy="1648.5" r="7.65" fill="#b0201e" stroke="#000" stroke-width="1.1"/>
<circle cx="571.9" cy="1641.1" r="7.65" fill="#b0201e" stroke="#000" stroke-width="1.1"/>
<circle cx="564.4" cy="1643" r="7.65" fill="#b0201e" stroke="#000" stroke-width="1.1"/>
<text x="264.18" y="1735.6" font-size="30.66" font-weight="normal" fill="#111">Day post-challenge</text>
<text transform="translate(45,1572.36) rotate(-90)" font-size="31.22" font-weight="normal" fill="#111">Anti-Spike IgG</text>
<text transform="translate(81.2,1623.13) rotate(-90)" font-size="30.8" font-weight="normal" fill="#111">ELISA End-Point Titer</text>
<rect x="610.6" y="1285.6" width="239.9" height="102.1" fill="none" stroke="#000" stroke-width="2"/>
<circle cx="631.4" cy="1317.8" r="7.6" fill="#054e66" stroke="#000" stroke-width="1.1"/>
<circle cx="631.4" cy="1354.4" r="7.6" fill="#b0201e" stroke="#000" stroke-width="1.1"/>
<text x="656.02" y="1327.9" font-size="27.62" font-weight="normal" fill="#111">pNTC-Spike</text>
<text x="656.53" y="1364.4" font-size="28.05" font-weight="normal" fill="#111">Sham controls</text>
</g>
</svg>
</body></html>
